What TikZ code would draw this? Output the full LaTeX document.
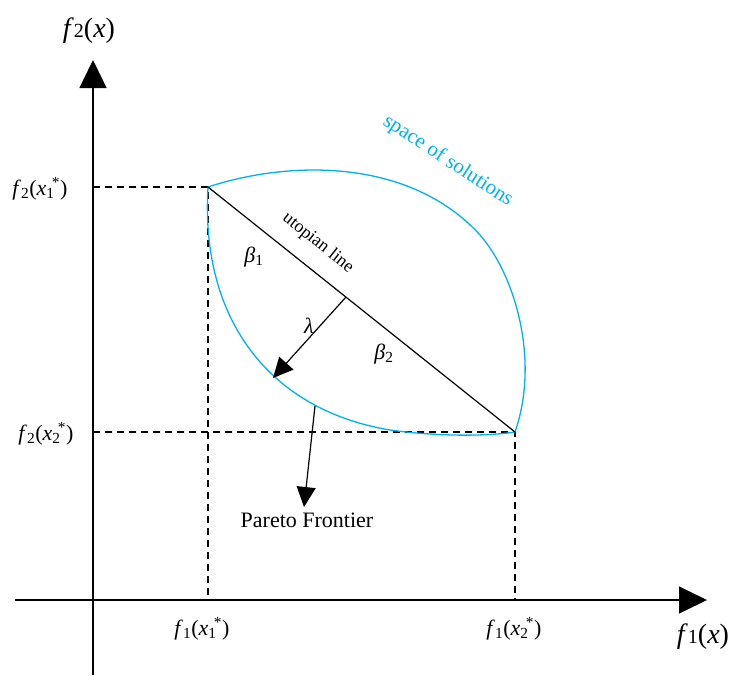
\documentclass[tikz,border=0pt]{standalone}
\usepackage{fontspec}
\setmainfont{Liberation Serif}
\usetikzlibrary{arrows.meta}
\definecolor{sky}{RGB}{0,176,240}
\newcommand\fxs[2]{\textit{f}\textsubscript{#1}(\textit{x}\textsubscript{#2}\hspace{-0.12em}\textsuperscript{*})}
\begin{document}
\begin{tikzpicture}[x=1pt,y=-1pt,
  axis/.style={line width=1.4pt,-{Triangle[length=28pt,width=27pt]}},
  guide/.style={line width=1.2pt,dash pattern=on 7pt off 5pt},
  curve/.style={sky,line width=1.3pt},
  blackline/.style={line width=1.2pt},
  pointer/.style={line width=1.2pt,-{Triangle[length=20pt,width=19pt]}},
  lab/.style={font=\fontsize{22}{24}\selectfont,inner sep=0pt},
  big/.style={font=\fontsize{28}{30}\selectfont,inner sep=0pt}]
\useasboundingbox (0,0) rectangle (735,675);
% coordinates
\coordinate (ybot) at (93,675);
\coordinate (ytop) at (93,60);
\coordinate (xleft) at (15,600);
\coordinate (xright) at (707,600);
\coordinate (A) at (208,187);
\coordinate (B) at (515,432);
\coordinate (A0) at (93,187);
\coordinate (B0) at (93,432);
\coordinate (A1) at (208,600);
\coordinate (B1) at (515,600);
\coordinate (M) at (346,297);
\coordinate (L) at (273,378);
\coordinate (P0) at (315,406);
\coordinate (P1) at (304,507);
% axes
\draw[axis] (ybot) -- (ytop);
\draw[axis] (xleft) -- (xright);
% guides
\draw[guide] (A0) -- (A) -- (A1);
\draw[guide] (B0) -- (B) -- (B1);
% curves
\draw[curve] (A) .. controls (290,160) and (410,158) .. (480,235)
  .. controls (515,275) and (540,360) .. (B);
\draw[curve] (A) .. controls (200,320) and (270,410) .. (390,430)
  .. controls (440,437) and (490,436) .. (B);
% utopian line
\draw[blackline] (A) -- (B);
\draw[pointer] (M) -- (L);
\draw[pointer] (P0) -- (P1);
% labels
\node[big] (ylab) at (89,31) {\textit{f}{\fontsize{20}{20}\selectfont 2}(\textit{x})};
\node[big] (xlab) at (703,637) {\textit{f}{\fontsize{20}{20}\selectfont 1}(\textit{x})};
\node[lab] (fa) at (40,189) {\fxs{2}{1}};
\node[lab] (fb) at (46,434) {\fxs{2}{2}};
\node[lab] (fc) at (202,629) {\fxs{1}{1}};
\node[lab] (fd) at (514,629) {\fxs{1}{2}};
\node[lab,font=\fontsize{18}{20}\selectfont,rotate=-38.6] (ut) at (318,243) {utopian line};
\node[lab,font=\fontsize{21}{22}\selectfont,text=sky,rotate=-33] (sp) at (448,161) {space of solutions};
\node[lab] (b1) at (254,257) {\textit{β}\textsubscript{1}};
\node[lab] (b2) at (384,354) {\textit{β}\textsubscript{2}};
\node[lab] (lam) at (309,326) {\textit{λ}};
\node[lab] (pf) at (307,520) {Pareto Frontier};
\end{tikzpicture}
\end{document}
